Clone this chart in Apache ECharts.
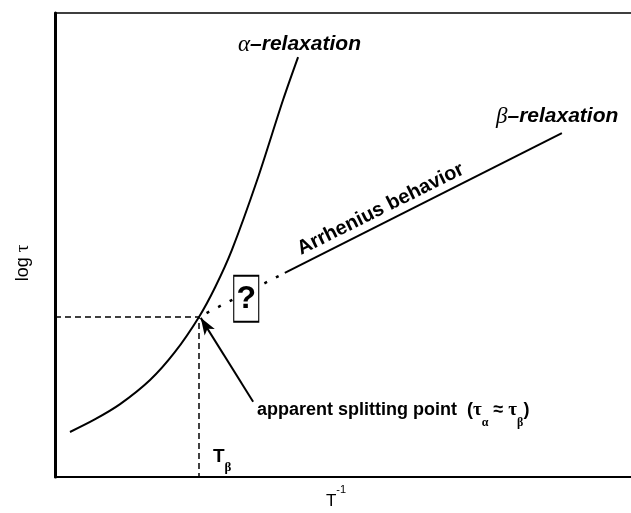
<!DOCTYPE html>
<html>
<head>
<meta charset="utf-8">
<script src="https://cdn.jsdelivr.net/npm/echarts/dist/echarts.min.js"></script>
<style>
  html, body { margin: 0; padding: 0; background: #fff; }
  #chart { width: 631px; height: 513px; }
</style>
</head>
<body>
<div id="chart"></div>
<script>
// axes are unitless: x = T^-1, y = log tau, both 0..10
const alphaX = [0.26, 0.69, 1.13, 1.65, 2.08, 2.50, 2.78, 3.07, 3.51, 3.96, 4.22];
const alphaY = [0.97, 1.24, 1.57, 2.09, 2.69, 3.45, 4.09, 4.89, 6.40, 8.13, 9.05];

const betaX = [3.99, 8.80];          // solid Arrhenius part
const betaY = [4.40, 7.41];

const splitPoint = [2.50, 3.45];     // apparent splitting point
const betaDottedEnd = [3.99, 4.40];

const questionBox = [3.32, 3.84];
const arrowFrom = [3.44, 1.62];
const arrowTo = [2.53, 3.43];

const pairs = (xs, ys) => xs.map((x, i) => [x, ys[i]]);

const BOLD = '"Liberation Sans", Arial, sans-serif';
const GREEK = '"Liberation Serif", "Times New Roman", serif';

const chart = echarts.init(document.getElementById('chart'));

const hiddenAxis = {
	type: 'value',
	min: 0,
	max: 10,
	axisTick: { show: false },
	axisLabel: { show: false },
	splitLine: { show: false }
};

chart.setOption({
	animation: false,
	backgroundColor: '#fff',
	grid: {
		left: 55,
		right: 0,
		top: 13,
		bottom: 36
	},
	xAxis: [
		Object.assign({}, hiddenAxis, {
			position: 'bottom',
			axisLine: { lineStyle: { color: '#000', width: 2 } }
		}),
		Object.assign({}, hiddenAxis, {
			position: 'top', // frame top edge
			axisLine: { onZero: false, lineStyle: { color: '#000', width: 1.5 } }
		})
	],
	yAxis: Object.assign({}, hiddenAxis, {
		axisLine: { lineStyle: { color: '#000', width: 3 } }
	}),
	series: [
		{
			// dashed guides to the splitting point
			type: 'line',
			data: [[0, splitPoint[1]], splitPoint, [splitPoint[0], 0]],
			symbol: 'none',
			lineStyle: { color: '#000', width: 1.5, type: [6, 4] },
			z: 2
		},
		{
			type: 'line',
			data: pairs(alphaX, alphaY),
			smooth: 0.3,
			symbol: 'none',
			lineStyle: { color: '#000', width: 2 },
			z: 3
		},
		{
			// dotted extrapolation of beta below the box
			type: 'line',
			data: [splitPoint, betaDottedEnd],
			symbol: 'none',
			lineStyle: { color: '#000', width: 2.5, type: [3, 10], dashOffset: 4.5 },
			z: 3
		},
		{
			type: 'line',
			data: pairs(betaX, betaY),
			symbol: 'none',
			lineStyle: { color: '#000', width: 2 },
			z: 3
		},
		{
			// the "?" box
			type: 'scatter',
			data: [questionBox],
			symbol: 'rect',
			symbolSize: [25, 46],
			itemStyle: { color: '#fff', borderColor: '#000', borderWidth: 1.5, opacity: 1 },
			label: {
				show: true,
				position: 'inside',
				formatter: '?',
				color: '#000',
				fontFamily: BOLD,
				fontWeight: 'bold',
				fontSize: 32
			},
			z: 5
		},
		{
			// arrow to the splitting point
			type: 'line',
			data: [],
			markLine: {
				silent: true,
				symbol: ['none', 'arrow'],
				symbolSize: [9, 17],
				label: { show: false },
				lineStyle: { color: '#000', width: 2, type: 'solid' },
				data: [[{ coord: arrowFrom }, { coord: arrowTo }]]
			},
			z: 4
		}
	],
	graphic: [
		{
			type: 'text', left: 238, top: 33,
			style: {
				text: '{g|α}{b|–relaxation}',
				rich: {
					g: { fontFamily: GREEK, fontStyle: 'italic', fontSize: 23, fill: '#000' },
					b: { fontFamily: BOLD, fontStyle: 'italic', fontWeight: 'bold', fontSize: 21, fill: '#000' }
				}
			}
		},
		{
			type: 'text', left: 496, top: 105,
			style: {
				text: '{g|β}{b|–relaxation}',
				rich: {
					g: { fontFamily: GREEK, fontStyle: 'italic', fontSize: 23, fill: '#000' },
					b: { fontFamily: BOLD, fontStyle: 'italic', fontWeight: 'bold', fontSize: 21, fill: '#000' }
				}
			}
		},
		{
			type: 'text', x: 303, y: 259, rotation: 26.5 * Math.PI / 180,
			style: {
				text: 'Arrhenius behavior',
				fontFamily: BOLD, fontWeight: 'bold', fontSize: 20, fill: '#000',
				align: 'left', verticalAlign: 'bottom'
			}
		},
		{
			type: 'text', x: 257, y: 410,
			style: {
				text: '{b|apparent splitting point  (}{t|τ}{s|α}{b| ≈ }{t|τ}{s|β}{b|)}',
				align: 'left', verticalAlign: 'middle',
				rich: {
					b: { fontFamily: BOLD, fontWeight: 'bold', fontSize: 18, lineHeight: 38, fill: '#000' },
					t: { fontFamily: GREEK, fontWeight: 'bold', fontSize: 19, lineHeight: 38, fill: '#000' },
					s: { fontFamily: GREEK, fontWeight: 'bold', fontSize: 12, lineHeight: 10, verticalAlign: 'bottom', fill: '#000' }
				}
			}
		},
		{
			type: 'text', x: 213, y: 457,
			style: {
				text: '{b|T}{s|β}',
				align: 'left', verticalAlign: 'middle',
				rich: {
					b: { fontFamily: BOLD, fontWeight: 'bold', fontSize: 19, lineHeight: 34, fill: '#000' },
					s: { fontFamily: GREEK, fontWeight: 'bold', fontSize: 13, lineHeight: 10, verticalAlign: 'bottom', fill: '#000' }
				}
			}
		},
		{
			type: 'text', x: 336, y: 501,
			style: {
				text: '{b|T}{s|-1}',
				align: 'center', verticalAlign: 'middle',
				rich: {
					b: { fontFamily: BOLD, fontSize: 17, lineHeight: 34, fill: '#000' },
					s: { fontFamily: BOLD, fontSize: 11, lineHeight: 10, verticalAlign: 'top', fill: '#000' }
				}
			}
		},
		{
			type: 'text', x: 23, y: 263, rotation: Math.PI / 2,
			style: {
				text: '{b|log }{t|τ}',
				align: 'center', verticalAlign: 'middle',
				rich: {
					b: { fontFamily: BOLD, fontSize: 18, fill: '#000' },
					t: { fontFamily: GREEK, fontSize: 19, fill: '#000' }
				}
			}
		}
	]
});
</script>
</body>
</html>
